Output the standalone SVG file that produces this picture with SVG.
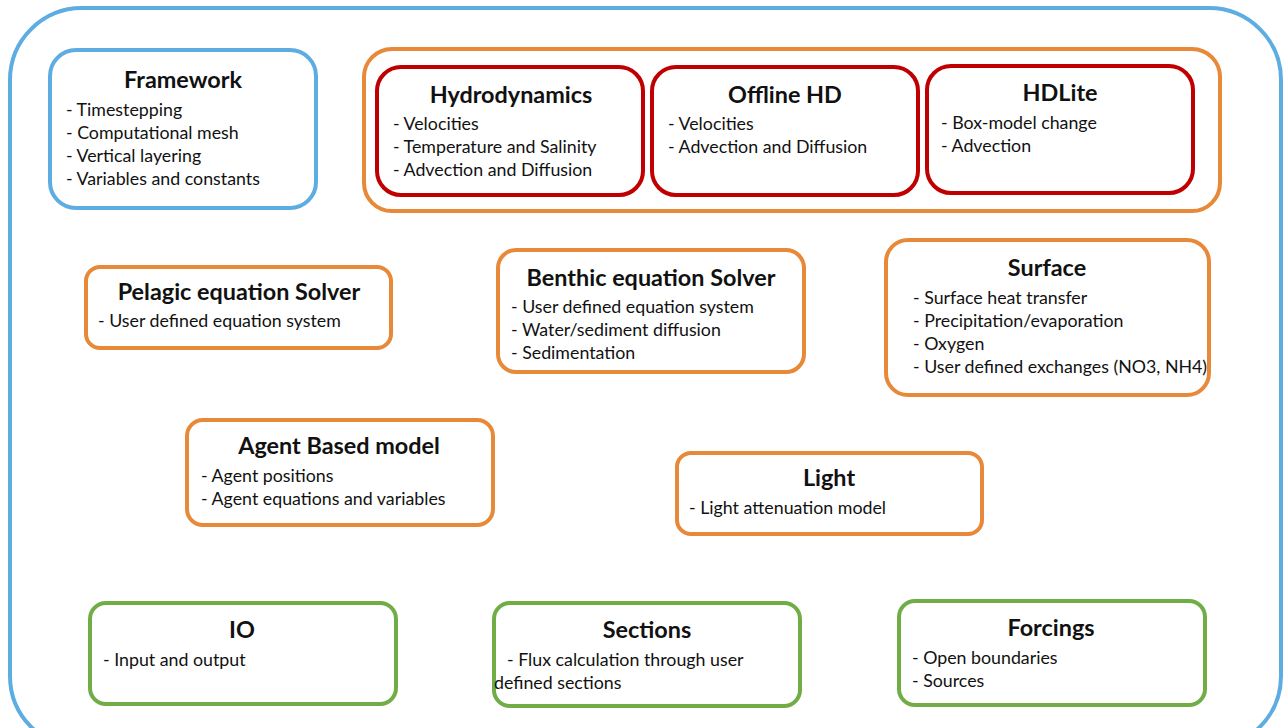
<svg xmlns="http://www.w3.org/2000/svg" width="1288" height="728" viewBox="0 0 1288 728">
<style>
.blue{fill:#fff;stroke:#5DADE2;stroke-width:4}
.orange{fill:none;stroke:#E8893A;stroke-width:4}
.red{fill:#fff;stroke:#C00000;stroke-width:4}
.green{fill:#fff;stroke:#70AD47;stroke-width:4}
.ob{fill:#fff;stroke:#E8893A;stroke-width:4}
text{font-family:Lato,"Liberation Sans",sans-serif;fill:#111}
.t{font-size:23.4px;font-weight:bold;text-anchor:middle}
.b{font-size:17.8px}
</style>
<rect width="1288" height="728" fill="#fff"/>
<rect id="outer" x="10" y="8" width="1271" height="740" rx="72" class="blue" fill="none"/>
<g id="framework"><rect x="50" y="50" width="266" height="158" rx="26" class="blue"/>
<text class="t" x="183" y="88">Framework</text>
<text class="b" x="66" y="116">- Timestepping</text><text class="b" x="66" y="139">- Computational mesh</text><text class="b" x="66" y="162">- Vertical layering</text><text class="b" x="66" y="185">- Variables and constants</text></g>
<g id="hd-group"><rect x="364" y="49" width="856" height="162" rx="28" class="orange"/></g>
<g id="hydrodynamics"><rect x="377" y="67" width="266" height="128" rx="24" class="red"/>
<text class="t" x="511" y="103">Hydrodynamics</text>
<text class="b" x="393" y="130">- Velocities</text><text class="b" x="393" y="153">- Temperature and Salinity</text><text class="b" x="393" y="176">- Advection and Diffusion</text></g>
<g id="offlinehd"><rect x="652" y="67" width="266" height="128" rx="24" class="red"/>
<text class="t" x="785" y="103">Offline HD</text>
<text class="b" x="668" y="130">- Velocities</text><text class="b" x="668" y="153">- Advection and Diffusion</text></g>
<g id="hdlite"><rect x="927" y="66" width="266" height="127" rx="24" class="red"/>
<text class="t" x="1060" y="101">HDLite</text>
<text class="b" x="941" y="129">- Box-model change</text><text class="b" x="941" y="152">- Advection</text></g>
<g id="pelagic"><rect x="86" y="267" width="305" height="81" rx="14" class="ob"/>
<text class="t" x="239" y="300">Pelagic equation Solver</text>
<text class="b" x="98" y="327">- User defined equation system</text></g>
<g id="benthic"><rect x="498" y="250" width="306" height="122" rx="18" class="ob"/>
<text class="t" x="651" y="286">Benthic equation Solver</text>
<text class="b" x="511" y="313">- User defined equation system</text><text class="b" x="511" y="336">- Water/sediment diffusion</text><text class="b" x="511" y="359">- Sedimentation</text></g>
<g id="surface"><rect x="886" y="240" width="323" height="155" rx="22" class="ob"/>
<text class="t" x="1047" y="276">Surface</text>
<text class="b" x="913" y="304">- Surface heat transfer</text><text class="b" x="913" y="327">- Precipitation/evaporation</text><text class="b" x="913" y="350">- Oxygen</text><text class="b" x="913" y="373">- User defined exchanges (NO3, NH4)</text></g>
<g id="agent"><rect x="187" y="420" width="306" height="105" rx="16" class="ob"/>
<text class="t" x="339" y="454">Agent Based model</text>
<text class="b" x="201" y="482">- Agent positions</text><text class="b" x="201" y="505">- Agent equations and variables</text></g>
<g id="light"><rect x="677" y="453" width="305" height="81" rx="14" class="ob"/>
<text class="t" x="829" y="486">Light</text>
<text class="b" x="689" y="514">- Light attenuation model</text></g>
<g id="io"><rect x="90" y="603" width="306" height="101" rx="16" class="green"/>
<text class="t" x="242" y="638">IO</text>
<text class="b" x="103" y="666">- Input and output</text></g>
<g id="sections"><rect x="494" y="603" width="306" height="103" rx="16" class="green"/>
<text class="t" x="647" y="638">Sections</text>
<text class="b" x="507" y="666">- Flux calculation through user</text><text class="b" x="494" y="689">defined sections</text></g>
<g id="forcings"><rect x="899" y="601" width="306" height="104" rx="16" class="green"/>
<text class="t" x="1051" y="636">Forcings</text>
<text class="b" x="912" y="664">- Open boundaries</text><text class="b" x="912" y="687">- Sources</text></g>
<g id="connectors"></g>
</svg>
